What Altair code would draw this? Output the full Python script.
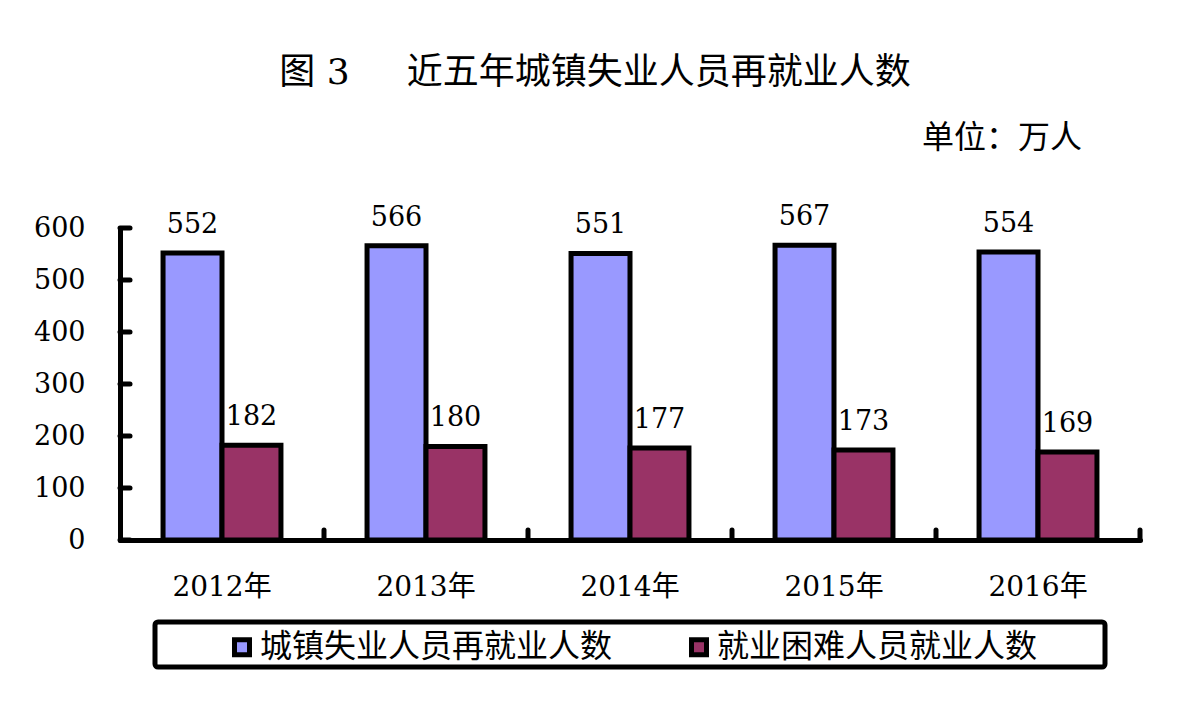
import altair as alt
import pandas as pd

years = ["2012年", "2013年", "2014年", "2015年", "2016年"]
series_names = ["城镇失业人员再就业人数", "就业困难人员就业人数"]
reemployed = [552, 566, 551, 567, 554]
difficult = [182, 180, 177, 173, 169]
y_ticks = [0, 100, 200, 300, 400, 500, 600]
colors = ["#9999FF", "#993366"]
title_text = "图\u00a03\u00a0\u00a0\u00a0\u00a0\u00a0近五年城镇失业人员再就业人数"
unit_text = "单位：万人"

rows = []
for i, yr in enumerate(years):
    rows.append({"year": yr, "series": series_names[0], "value": reemployed[i]})
    rows.append({"year": yr, "series": series_names[1], "value": difficult[i]})
df = pd.DataFrame(rows)

W, H = 1020, 312
NUM_FONT = "DejaVu Serif"
CJK_FONT = "Noto Sans CJK SC"
MIX_FONT = "DejaVu Serif, Noto Sans CJK SC"

x_scale = alt.Scale(paddingInner=0, paddingOuter=0)
x_axis = alt.Axis(title=None, labelAngle=0, labelFont=MIX_FONT, labelFontSize=28,
                  labelColor="black", labelPadding=33, ticks=False, tickSize=0,
                  domainColor="black", domainWidth=5, domainCap="round")
y_scale = alt.Scale(domain=[0, 600], nice=False, zero=True)
y_axis = alt.Axis(title=None, values=y_ticks, grid=False, ticks=False, tickSize=0,
                  labelFont=NUM_FONT, labelFontSize=27, labelColor="black",
                  labelPadding=35, domainColor="black", domainWidth=5,
                  domainCap="round")

x = alt.X("year:N", sort=years, scale=x_scale, axis=x_axis)
xoff = alt.XOffset("series:N", sort=series_names,
                   scale=alt.Scale(paddingInner=0, paddingOuter=0.73))
y = alt.Y("value:Q", scale=y_scale, axis=y_axis)
color = alt.Color(
    "series:N", sort=series_names,
    scale=alt.Scale(domain=series_names, range=colors),
    legend=alt.Legend(title=None, orient="none", legendX=106, legendY=403,
                      direction="horizontal", labelFont=CJK_FONT, labelFontSize=32,
                      labelColor="black", symbolType="square", symbolSize=225,
                      symbolStrokeColor="black", symbolStrokeWidth=5,
                      labelOffset=2, columnPadding=68, padding=0, labelLimit=600),
)

bars = alt.Chart(df).mark_bar(stroke="black", strokeWidth=5).encode(
    x=x, xOffset=xoff, y=y, color=color
)
labels = alt.Chart(df).mark_text(font=NUM_FONT, fontSize=27, baseline="alphabetic",
                                 dy=-20, color="black").encode(
    x=x, xOffset=xoff, y=y, text="value:Q"
)

ytick_rules = alt.Chart(pd.DataFrame({"tick": y_ticks})).mark_rule(
    color="black", strokeWidth=5, strokeCap="round"
).encode(y=alt.Y("tick:Q", scale=y_scale, axis=y_axis), x=alt.value(0), x2=alt.value(10))

xtick_rules = alt.Chart(pd.DataFrame({"year": years})).mark_rule(
    color="black", strokeWidth=5, strokeCap="round"
).encode(x=alt.X("year:N", sort=years, bandPosition=1, scale=x_scale, axis=x_axis),
         y=alt.value(H), y2=alt.value(H - 10))

unit = alt.Chart(pd.DataFrame({"t": [unit_text]})).mark_text(
    font=CJK_FONT, fontSize=32, color="black"
).encode(text="t:N", x=alt.value(882), y=alt.value(-90))

legend_frame = alt.Chart(pd.DataFrame({"a": [0]})).mark_rect(
    fillOpacity=0, stroke="black", strokeWidth=5, cornerRadius=3
).encode(x=alt.value(35), x2=alt.value(985), y=alt.value(394), y2=alt.value(439))

chart = alt.layer(legend_frame, bars, labels, ytick_rules, xtick_rules, unit).properties(
    width=W, height=H,
    title=alt.TitleParams(title_text, font=MIX_FONT, fontSize=36, fontWeight="normal",
                          color="black", anchor="middle", dx=-35, offset=30),
    autosize=alt.AutoSizeParams(type="none"),
    padding={"left": 112, "top": 220, "right": 40, "bottom": 150},
    background="white",
).configure_view(strokeWidth=0)

chart.save("out.html", embed_options={"renderer": "svg", "actions": False})
